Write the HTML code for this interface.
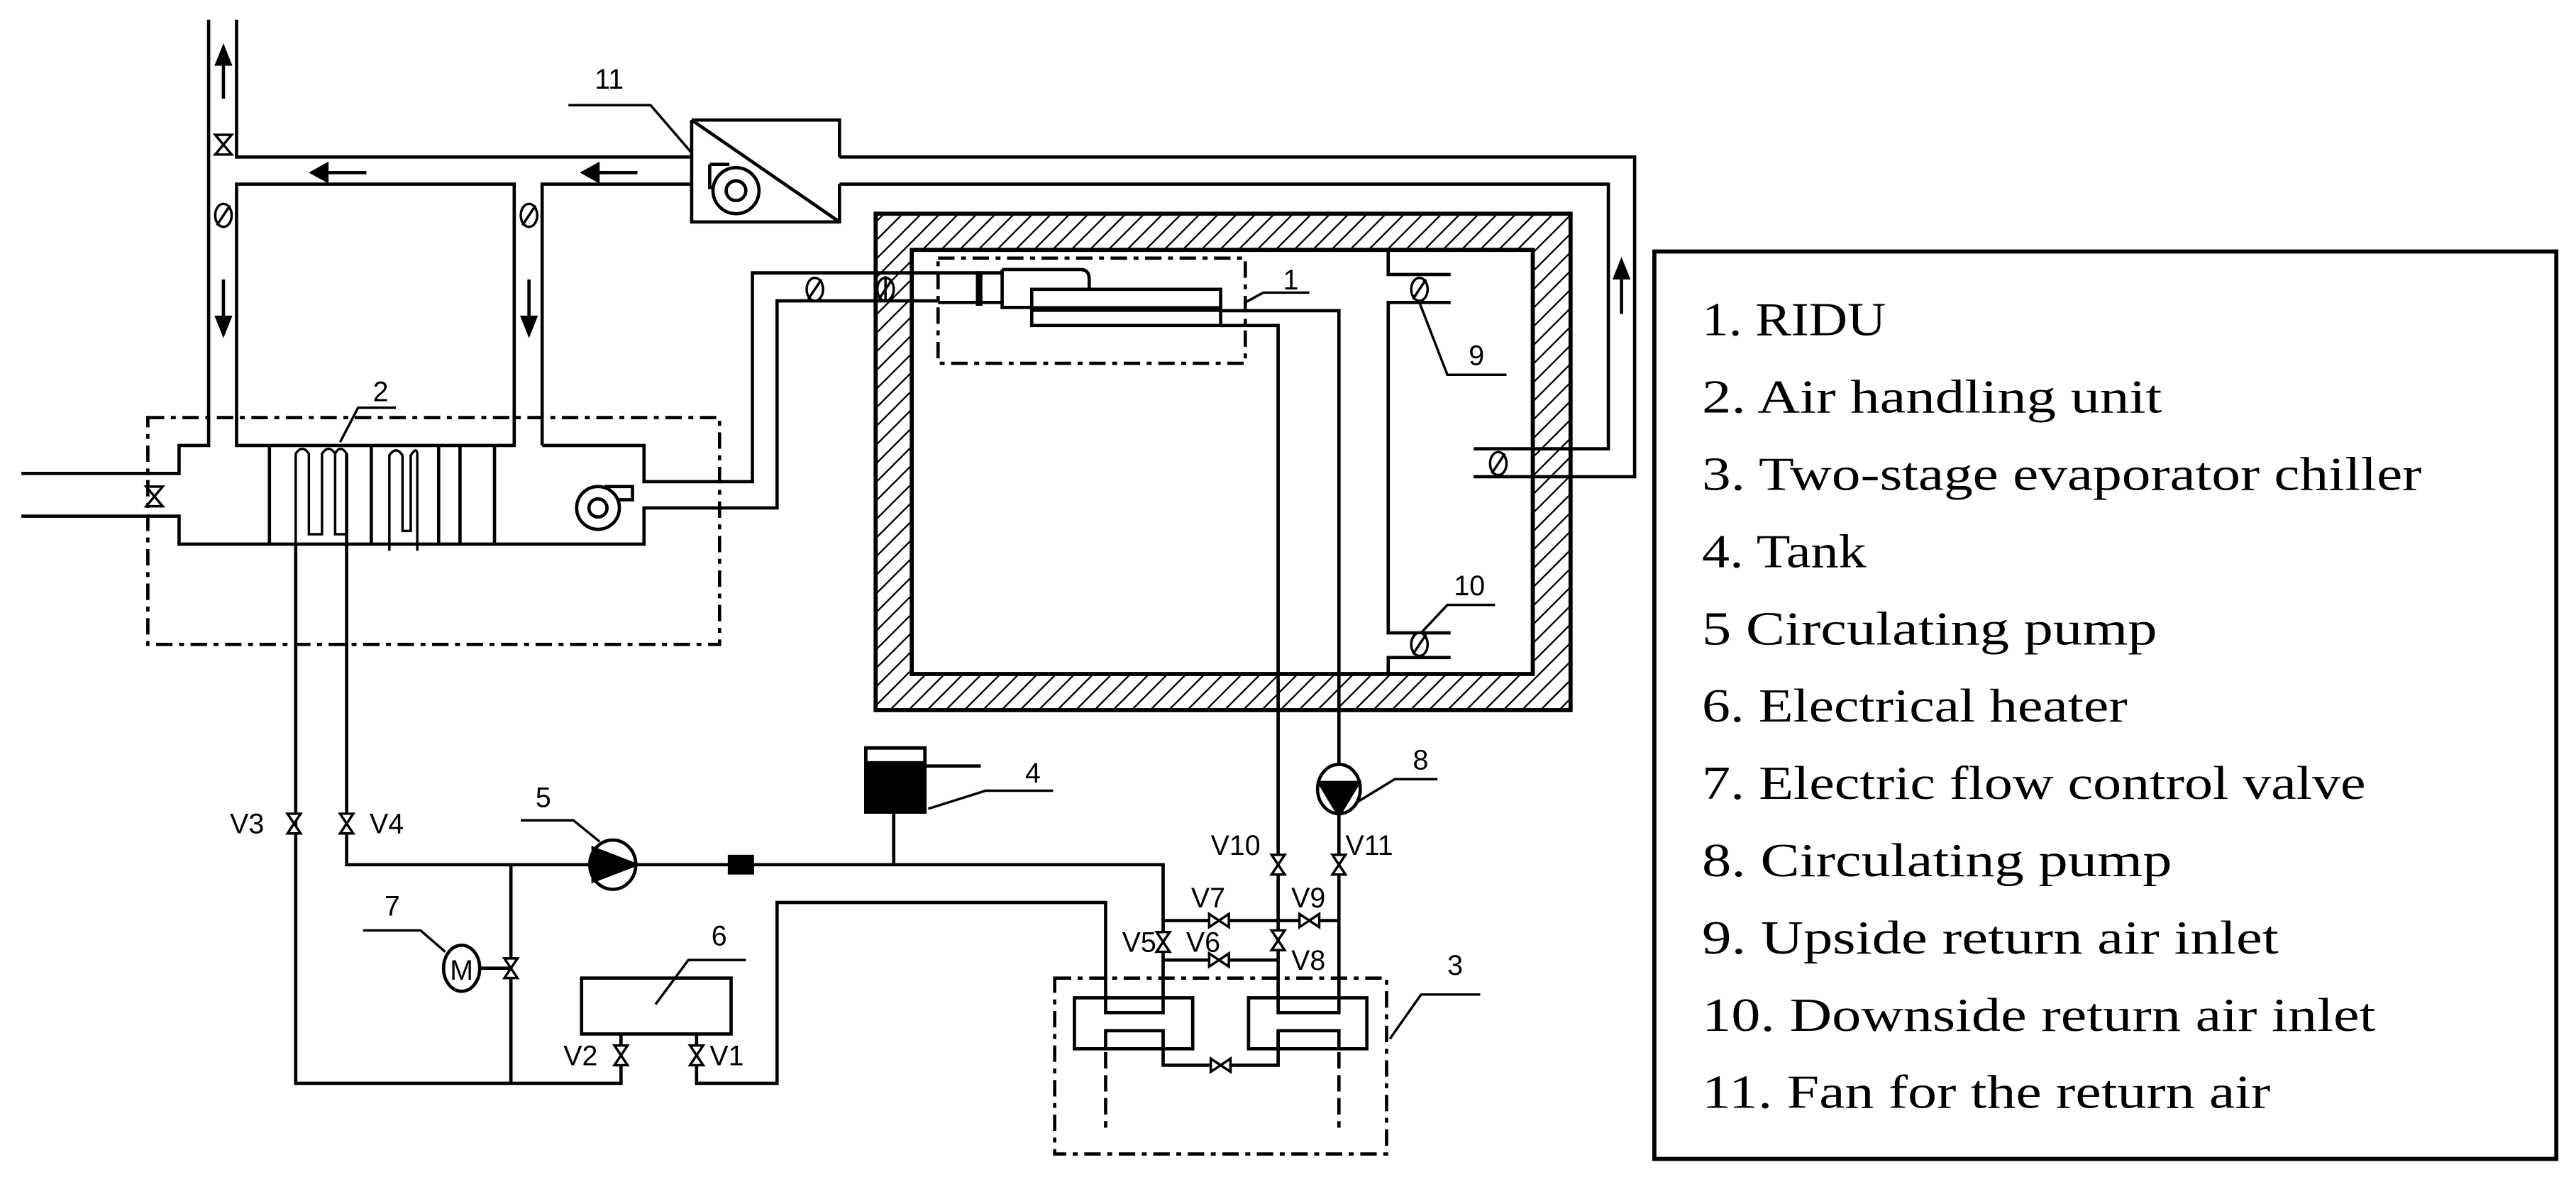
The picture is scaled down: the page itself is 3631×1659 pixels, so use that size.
<!DOCTYPE html>
<html><head><meta charset="utf-8"><style>
html,body{margin:0;padding:0;background:#fff;}
svg{display:block;}
.l{font-family:"Liberation Sans Narrow","Liberation Sans",sans-serif;font-size:17px;fill:#000;}
.g{font-family:"Liberation Serif",serif;font-size:29px;fill:#000;}
</style></head><body>
<svg width="3631" height="1659" viewBox="0 0 1568 716" preserveAspectRatio="none" xmlns="http://www.w3.org/2000/svg">
<defs>
<pattern id="h" width="8" height="8" patternUnits="userSpaceOnUse" patternTransform="rotate(45)">
<rect width="8" height="8" fill="#fff"/><line x1="0" y1="0" x2="0" y2="8" stroke="#000" stroke-width="2"/>
</pattern>
<g id="vv"><path d="M-4,-6 L4,-6 L-4,6 L4,6 Z" fill="#fff" stroke="#000" stroke-width="1.5"/></g>
<g id="vh"><path d="M-6,-4 L-6,4 L6,-4 L6,4 Z" fill="#fff" stroke="#000" stroke-width="1.5"/></g>
<g id="dmp"><ellipse cx="0" cy="0" rx="5" ry="7" fill="#fff" stroke="#000" stroke-width="1.5"/><line x1="-4" y1="6" x2="4" y2="-6" stroke="#000" stroke-width="1.5"/></g>
</defs>
<g fill="none" stroke="#000" stroke-width="2">
<rect x="533" y="130" width="423" height="302" fill="url(#h)" stroke-width="2.5"/>
<rect x="555" y="152" width="378" height="258" fill="#fff" stroke-width="2.5"/>
<path d="M127,12 V271 H109 V288 H13"/>
<path d="M144,12 V95.5 H421"/>
<path d="M13,314 H109 V331 H392 V309 H473 V183 H571"/>
<path d="M144,112 V271 H313 V112 Z"/>
<path d="M330,271 V112 H421"/>
<path d="M330,271 H392 V293 H458 V166 H571"/>
<path d="M421,73 H511 V95.5 M511,112 V135 H421 V73"/>
<line x1="421" y1="73" x2="511" y2="135"/>
<path d="M432,100 H444 M432,100 V114 H438"/>
<circle cx="448" cy="116" r="14" fill="#fff"/><circle cx="448" cy="116" r="6"/>
<path d="M511,95.5 H995 V290 H897"/>
<path d="M511,112 H979 V273 H897"/>
<path d="M571,166 H610 M571,184 H610"/>
<rect x="571" y="157" width="187" height="64" stroke-dasharray="10,4,3,4"/>
<line x1="596" y1="165" x2="596" y2="186" stroke-width="4"/>
<path d="M610,164 H658 Q663,164 663,170 V176 M610,164 V187 H628"/>
<rect x="628" y="176" width="115" height="22"/>
<line x1="628" y1="188" x2="743" y2="188" stroke-width="3.5"/>
<path d="M743,189 H815 V607"/>
<path d="M743,198 H778 V607"/>
<path d="M845,152 V167 H883 M845,410 V400 H883 M883,184 H845 V385 H883"/>
<rect x="90" y="254" width="348" height="138" stroke-dasharray="10,4,3,4"/>
<path d="M164,271 V331 M226,271 V331 M267,271 V331 M280,271 V331 M301,271 V331"/>
<path d="M180,400 V276 Q184,270 188,276 V325 H196 V276 Q200,270 204,276 V325 H211 V276 Q207,270 204,276" stroke-width="1.5"/>
<path d="M180,331 V659 M211,276 V526 H708 V607"/>
<path d="M237,335 V277 Q241,271 245,277 V323 H250 V277 Q254,271 254,277 V335" stroke-width="1.5"/>
<circle cx="364" cy="309" r="13"/><circle cx="364" cy="309" r="5.5"/>
<path d="M368,296 H385 V304 H376"/>
<path d="M311,526 V659 M179,659 H378 V629 M424,629 V659 H473 V549 H673 V607"/>
<rect x="354" y="595" width="91" height="34"/>
<line x1="544" y1="526" x2="544" y2="494"/>
<rect x="527" y="455" width="36" height="39"/>
<rect x="642" y="595" width="202" height="107" stroke-dasharray="10,4,3,4"/>
<path d="M654,607 H726 V638 H654 Z M673,607 V616 H708 V607 M673,638 V627 H708 V638"/>
<path d="M760,607 H832 V638 H760 Z M778,607 V616 H815 V607 M778,638 V627 H815 V638"/>
<path d="M708,627 V648 H778 V627"/>
<path d="M673,640 V686 M815,640 V686" stroke-dasharray="10,4"/>
<path d="M708,560 H815 M708,584 H778"/>
<path d="M241,248 H218 L207,269 M346,64 H396 L421,93 M797,178 H769 L758,184 M864,184 L881,228 H917 M910,368 H881 L865,385 M641,481 H600 L565,492 M317,499 H349 L365,512 M221,566 H256 L271,579 M454,584 H419 L399,611 M901,605 H865 L846,632 M875,474 H849 L826,488" stroke-width="1.5"/>
</g>
<g stroke="#000" stroke-width="2" fill="#000">
<line x1="196" y1="105" x2="223" y2="105"/><path d="M190,105 L199,100 L199,110 Z"/>
<line x1="361" y1="105" x2="388" y2="105"/><path d="M355,105 L364,100 L364,110 Z"/>
<line x1="136" y1="36" x2="136" y2="60"/><path d="M136,29 L132,39 L140,39 Z"/>
<line x1="136" y1="170" x2="136" y2="196"/><path d="M136,203 L132,193 L140,193 Z"/>
<line x1="322" y1="170" x2="322" y2="196"/><path d="M322,203 L318,193 L326,193 Z"/>
<line x1="987" y1="166" x2="987" y2="191"/><path d="M987,159 L983,169 L991,169 Z"/>
</g>
<use href="#dmp" x="136" y="131"/><use href="#dmp" x="322" y="131"/>
<use href="#dmp" x="496" y="176"/><use href="#dmp" x="539" y="176"/>
<use href="#dmp" x="912" y="282"/><use href="#dmp" x="864" y="176"/><use href="#dmp" x="864" y="392"/>
<g stroke="#000" stroke-width="1.5" fill="#fff">
<path d="M131,82 L141,82 L131,94 L141,94 Z"/><path d="M89,296 L99,296 L89,308 L99,308 Z"/>
<line x1="539" y1="168" x2="539" y2="184"/>
</g>
<use href="#vv" x="179" y="501"/><use href="#vv" x="211" y="501"/>
<use href="#vv" x="311" y="589"/><use href="#vv" x="378" y="642"/><use href="#vv" x="424" y="642"/>
<use href="#vv" x="708" y="573"/><use href="#vv" x="778" y="572"/><use href="#vv" x="778" y="526"/><use href="#vv" x="815" y="526"/>
<use href="#vh" x="742" y="560"/><use href="#vh" x="797" y="560"/><use href="#vh" x="742" y="584"/><use href="#vh" x="743" y="648"/>
<g stroke="#000" stroke-width="2">
<ellipse cx="373" cy="526" rx="14" ry="15" fill="#fff"/>
<path d="M361,516 L387,526 L361,536 Z" fill="#000"/>
<rect x="444" y="521" width="14" height="10" fill="#000"/>
<rect x="527" y="464" width="36" height="30" fill="#000"/>
<path d="M527,470 V455 H563 V464 M563,466 H597" fill="none"/>
<ellipse cx="815" cy="480" rx="13" ry="15" fill="#fff"/>
<path d="M803,476 L827,476 L815,496 Z" fill="#000"/>
<ellipse cx="281" cy="589" rx="11" ry="14" fill="#fff"/>
<line x1="292" y1="589" x2="311" y2="589"/>
</g>
<text x="281" y="596" class="l" text-anchor="middle" font-size="18">M</text>
<g class="l">
<text x="227" y="244">2</text><text x="362" y="54">11</text><text x="781" y="176">1</text>
<text x="894" y="222">9</text><text x="885" y="362">10</text><text x="624" y="476">4</text>
<text x="326" y="491">5</text><text x="234" y="557">7</text><text x="433" y="575">6</text>
<text x="881" y="593">3</text><text x="860" y="468">8</text>
<text x="140" y="507">V3</text><text x="225" y="507">V4</text>
<text x="343" y="648">V2</text><text x="432" y="648">V1</text>
<text x="737" y="520">V10</text><text x="819" y="520">V11</text>
<text x="725" y="552">V7</text><text x="786" y="552">V9</text>
<text x="683" y="579">V5</text><text x="722" y="579">V6</text><text x="786" y="590">V8</text>
</g>
<rect x="1007" y="153" width="549" height="552" fill="none" stroke="#000" stroke-width="2.5"/>
<g class="g">
<text x="1036" y="204" textLength="112" lengthAdjust="spacingAndGlyphs">1. RIDU</text>
<text x="1036" y="251" textLength="280" lengthAdjust="spacingAndGlyphs">2. Air handling unit</text>
<text x="1036" y="298" textLength="438" lengthAdjust="spacingAndGlyphs">3. Two-stage evaporator chiller</text>
<text x="1036" y="345" textLength="100" lengthAdjust="spacingAndGlyphs">4. Tank</text>
<text x="1036" y="392" textLength="277" lengthAdjust="spacingAndGlyphs">5 Circulating pump</text>
<text x="1036" y="439" textLength="259" lengthAdjust="spacingAndGlyphs">6. Electrical heater</text>
<text x="1036" y="486" textLength="404" lengthAdjust="spacingAndGlyphs">7. Electric flow control valve</text>
<text x="1036" y="533" textLength="286" lengthAdjust="spacingAndGlyphs">8. Circulating pump</text>
<text x="1036" y="580" textLength="351" lengthAdjust="spacingAndGlyphs">9. Upside return air inlet</text>
<text x="1036" y="627" textLength="410" lengthAdjust="spacingAndGlyphs">10. Downside return air inlet</text>
<text x="1036" y="674" textLength="346" lengthAdjust="spacingAndGlyphs">11. Fan for the return air</text>
</g>
</svg>
</body></html>
